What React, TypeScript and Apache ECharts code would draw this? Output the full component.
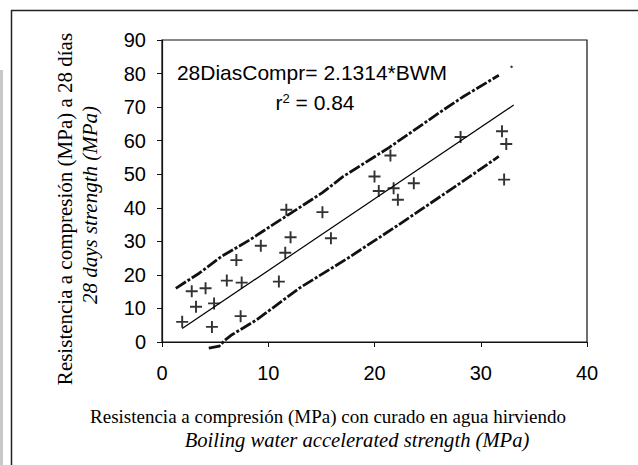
import React, { useEffect, useRef } from "react";
import * as echarts from "echarts";

// Boiling water accelerated strength (MPa)
const bwmStrength = [1.9, 2.8, 3.2, 4.1, 4.7, 4.9, 6.1, 7.0, 7.5, 7.4, 9.3, 11.0, 11.6, 12.1, 11.7, 15.1, 15.9, 20.0, 20.4, 21.5, 21.8, 22.2, 23.7, 28.1, 32.0, 32.4, 32.2];
// 28 days strength (MPa)
const days28Strength = [6.0, 15.1, 10.5, 16.0, 4.5, 11.5, 18.3, 24.4, 17.7, 7.7, 28.7, 18.0, 26.6, 31.2, 39.4, 38.7, 30.9, 49.3, 45.0, 55.6, 45.8, 42.4, 47.3, 61.1, 62.8, 59.0, 48.4];

const regressionX = [1.9, 33.1];
const regressionY = [4.0, 70.6];

const upperBandX = [1.3, 3.5, 5.6, 8.3, 9.1, 13.0, 15.1, 17.0, 21.4, 26.5, 28.3, 31.7];
const upperBandY = [16.0, 20.5, 25.5, 30.5, 32.2, 40.2, 44.5, 49.2, 58.0, 69.2, 73.0, 79.5];
const upperDotX = [32.9];
const upperDotY = [82.0];

const lowerBandX = [4.4, 5.4, 5.9, 6.5, 8.9, 13.0, 17.6, 22.3, 28.0, 31.7];
const lowerBandY = [-1.8, -1.2, 0.5, 2.0, 6.6, 16.2, 25.2, 35.0, 47.2, 55.3];

const equationText = "28DiasCompr= 2.1314*BWM";
const r2Value = "0.84";
const yTitle1 = "Resistencia a compresión (MPa) a 28 días";
const yTitle2 = "28 days strength (MPa)";
const xTitle1 = "Resistencia a compresión (MPa) con curado en agua hirviendo";
const xTitle2 = "Boiling water accelerated strength (MPa)";

const zip = (xs: number[], ys: number[]) => xs.map((x, i) => [x, ys[i]]);

const PLUS = "path://M-1.6,-10h3.2v8.4h8.4v3.2h-8.4v8.4h-3.2v-8.4h-8.4v-3.2h8.4z";
const SANS = "'Liberation Sans', Arial, sans-serif";
const SERIF = "'Liberation Serif', 'Times New Roman', serif";

export default function App() {
  const ref = useRef<HTMLDivElement>(null);
  useEffect(() => {
    if (!ref.current) return;
    const chart = echarts.init(ref.current, undefined, { renderer: "svg" });
    const bandStyle = { color: "#111", width: 2.8, type: [12, 2, 3, 2] as any };
    chart.setOption({
      animation: false,
      backgroundColor: "#fff",
      grid: {
        left: 162,
        top: 40,
        right: 51,
        bottom: 123,
        show: true,
        borderColor: "#111",
        borderWidth: 1.2,
        backgroundColor: "transparent",
      },
      xAxis: {
        type: "value",
        min: 0,
        max: 40,
        interval: 10,
        splitLine: { show: false },
        axisLine: { lineStyle: { color: "#111", width: 1.2 } },
        axisTick: { length: 5, lineStyle: { color: "#111" } },
        axisLabel: { color: "#000", fontFamily: SANS, fontSize: 20, margin: 21 },
      },
      yAxis: {
        type: "value",
        min: 0,
        max: 90,
        interval: 10,
        splitLine: { show: false },
        axisLine: { show: true, lineStyle: { color: "#111", width: 1.2 } },
        axisTick: { show: true, length: 5, lineStyle: { color: "#111" } },
        axisLabel: { color: "#000", fontFamily: SANS, fontSize: 20, margin: 16 },
      },
      series: [
        {
          type: "line",
          data: zip(upperBandX, upperBandY),
          symbol: "none",
          lineStyle: bandStyle,
          clip: false,
          z: 2,
        },
        {
          type: "scatter",
          data: zip(upperDotX, upperDotY),
          symbol: "circle",
          symbolSize: 2.5,
          itemStyle: { color: "#111" },
        },
        {
          type: "line",
          data: zip(lowerBandX, lowerBandY),
          symbol: "none",
          lineStyle: bandStyle,
          clip: false,
          z: 2,
        },
        {
          type: "line",
          data: zip(regressionX, regressionY),
          symbol: "none",
          lineStyle: { color: "#000", width: 1.2 },
          z: 3,
        },
        {
          type: "scatter",
          data: zip(bwmStrength, days28Strength),
          symbol: PLUS,
          symbolSize: 12,
          itemStyle: { color: "#000" },
          z: 4,
        },
      ],
      graphic: [
        { type: "line", shape: { x1: 11, y1: 10.5, x2: 638, y2: 10.5 }, style: { stroke: "#222", lineWidth: 1.5 } },
        { type: "line", shape: { x1: 11.5, y1: 10, x2: 11.5, y2: 465 }, style: { stroke: "#222", lineWidth: 1.5 } },
        { type: "rect", shape: { x: 0, y: 70, width: 3, height: 395 }, style: { fill: "#c8c8c8" } },
        {
          type: "text",
          x: 312,
          y: 72,
          style: { text: equationText, fontFamily: SANS, fontSize: 21, fill: "#000", align: "center", verticalAlign: "middle" },
        },
        {
          type: "text",
          x: 315,
          y: 102,
          style: {
            text: "r{sup|2} = " + r2Value,
            fontFamily: SANS,
            fontSize: 21,
            fill: "#000",
            align: "center",
            verticalAlign: "middle",
            rich: { sup: { fontFamily: SANS, fontSize: 13, verticalAlign: "top", padding: [0, 0, 8, 0] } },
          },
        },
        {
          type: "text",
          x: 65,
          y: 209,
          rotation: Math.PI / 2,
          style: { text: yTitle1, fontFamily: SERIF, fontSize: 21, fill: "#000", align: "center", verticalAlign: "middle" },
        },
        {
          type: "text",
          x: 90,
          y: 205,
          rotation: Math.PI / 2,
          style: { text: yTitle2, fontFamily: SERIF, fontStyle: "italic", fontSize: 21, fill: "#000", align: "center", verticalAlign: "middle" },
        },
        {
          type: "text",
          x: 328,
          y: 416,
          style: { text: xTitle1, fontFamily: SERIF, fontSize: 19, fill: "#000", align: "center", verticalAlign: "middle" },
        },
        {
          type: "text",
          x: 357,
          y: 440,
          style: { text: xTitle2, fontFamily: SERIF, fontStyle: "italic", fontSize: 20.6, fill: "#000", align: "center", verticalAlign: "middle" },
        },
      ],
    });
    return () => chart.dispose();
  }, []);
  return <div ref={ref} style={{ position: "absolute", left: 0, top: 0, width: 638, height: 465 }} />;
}
